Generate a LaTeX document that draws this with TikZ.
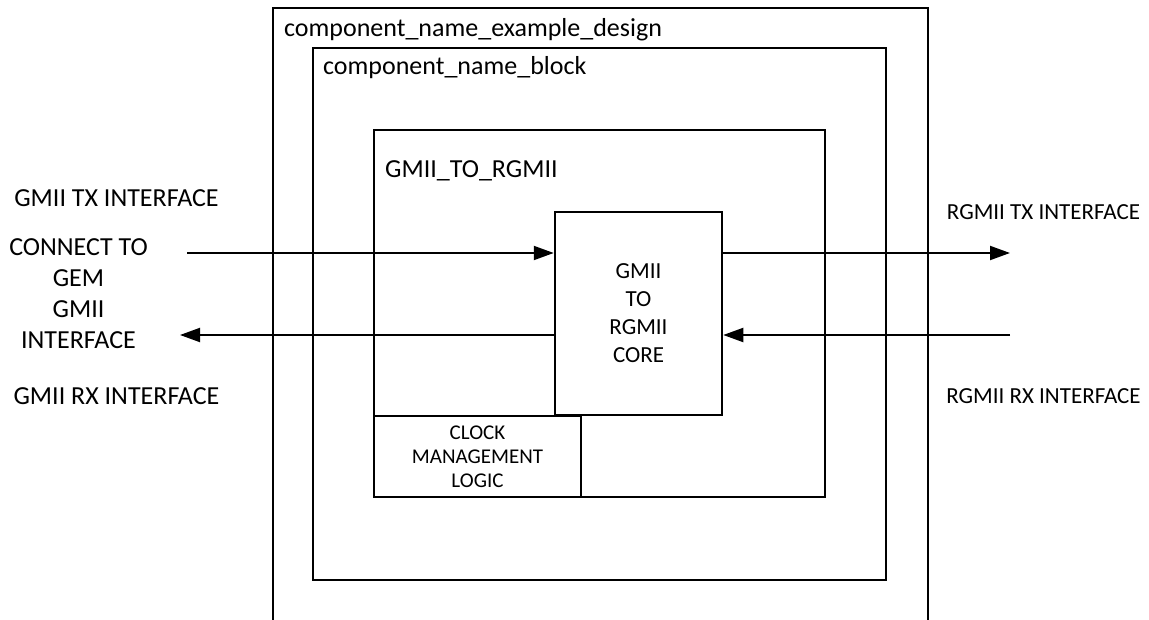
\documentclass[tikz,border=0pt]{standalone}
\usepackage{fontspec}
\setmainfont{Carlito}
\usetikzlibrary{arrows.meta}
\begin{document}
\begin{tikzpicture}[x=1pt,y=-1pt,
  box/.style={draw,line width=2.5pt},
  blk/.style={draw,line width=2.5pt,inner sep=0pt,align=center},
  wire/.style={line width=2pt},
  arr/.style={wire,-{Triangle[length=20pt,width=14pt]}},
  lbl/.style={font=\fontsize{26}{30}\selectfont,inner sep=0pt,anchor=base west},
  side/.style={font=\fontsize{26}{31}\selectfont,inner sep=0pt,align=center}]
\useasboundingbox (0,0) rectangle (1149,620);
% outer design box (open at bottom)
\draw[box] (273,620) |- (928,8) -- (928,620);
\node[lbl] (design) at (284,37) {component\_name\_example\_design};
% block box
\draw[box] (313,48) rectangle (886,580);
\node[lbl] (block) at (323,75) {component\_name\_block};
% GMII_TO_RGMII box
\draw[box] (374,130) rectangle (825,497);
\node[lbl] (g2r) at (385,178) {GMII\_TO\_RGMII};
% core
\node[blk,minimum width=167pt,minimum height=203pt,font=\fontsize{23}{28}\selectfont] (core) at (638.5,313.5) {GMII\\TO\\RGMII\\CORE};
% clock
\node[blk,fill=white,minimum width=207pt,minimum height=81pt,font=\fontsize{21}{24}\selectfont] (clk) at (477.5,456.5) {CLOCK\\MANAGEMENT\\LOGIC};
% side labels
\node[side] (gtx) at (116.5,198) {GMII TX INTERFACE};
\node[side] (conn) at (78.5,293.5) {CONNECT TO\\GEM\\GMII\\INTERFACE};
\node[side] (grx) at (116.5,396) {GMII RX INTERFACE};
\node[side,font=\fontsize{23}{27}\selectfont] (rtx) at (1043.5,212) {RGMII TX INTERFACE};
\node[side,font=\fontsize{23}{27}\selectfont] (rrx) at (1043.5,396) {RGMII RX INTERFACE};
% connectors
\coordinate (txin) at (187,253);
\coordinate (rxout) at (180,335);
\coordinate (txout) at (1010,253);
\coordinate (rxin) at (1010,335);
\draw[arr] (txin) -- (txin -| core.west);
\draw[arr] (rxout -| core.west) -- (rxout);
\draw[arr] (txout -| core.east) -- (txout);
\draw[arr] (rxin) -- (rxin -| core.east);
\end{tikzpicture}
\end{document}
